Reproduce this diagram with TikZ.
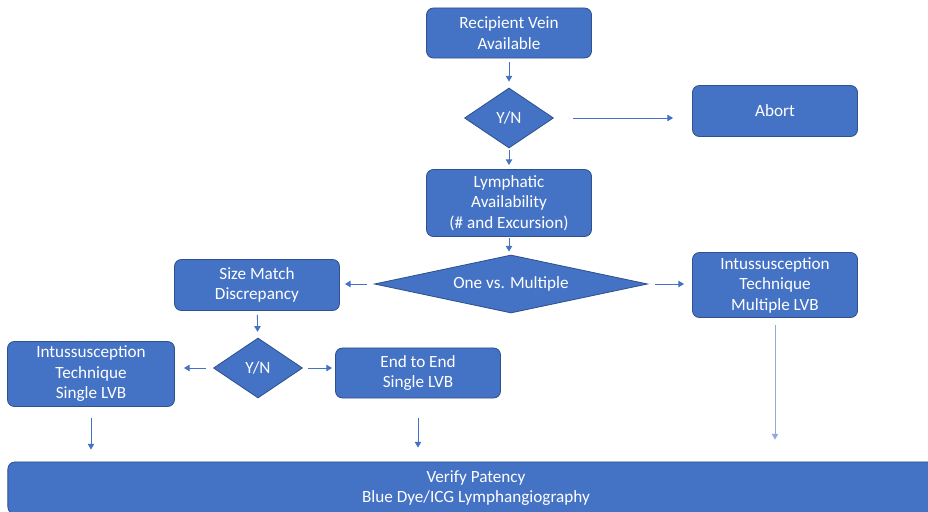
\documentclass[tikz,border=0pt]{standalone}
\usepackage{fontspec}
\setmainfont{Carlito}
\usetikzlibrary{shapes.geometric,arrows.meta}
\definecolor{boxblue}{HTML}{4472C4}
\definecolor{boxedge}{HTML}{2F528F}
\definecolor{paleblue}{HTML}{8FAADC}

\begin{document}
\begin{tikzpicture}[x=0.025cm,y=-0.025cm,
    stepbox/.style={fill=boxblue,draw=boxedge,line width=0.6pt,text=white,rounded corners=5pt,
      align=center,inner sep=0pt,minimum width=4.125cm,font=\fontsize{12.2}{14.6}\selectfont},
    choice/.style={diamond,fill=boxblue,draw=boxedge,line width=0.6pt,text=white,inner sep=0pt,
      aspect=1.5,minimum width=2.225cm,minimum height=1.5cm,font=\fontsize{12.2}{14.6}\selectfont},
    flow/.style={draw=boxblue,line width=0.6pt,-{Triangle[length=4pt,width=4.5pt]}}]
\useasboundingbox (0,0) rectangle (928,512);

\node[stepbox,minimum height=1.25cm] (vein) at (509,33) {Recipient Vein\\Available};
\node[choice] (yn1) at (509,118) {Y/N};
\node[stepbox,minimum height=1.275cm] (abort) at (775,111) {Abort};
\node[stepbox,minimum height=1.675cm] (lymph) at (509,203) {Lymphatic\\Availability\\(\# and Excursion)};
\node[choice,aspect=4.7,minimum width=6.825cm,minimum height=1.45cm] (count) at (511,284) {One vs. Multiple};
\node[stepbox,minimum height=1.275cm] (size) at (257,285) {Size Match\\Discrepancy};
\node[stepbox,minimum height=1.625cm] (multi) at (775,285) {Intussusception\\Technique\\Multiple LVB};
\node[choice] (yn2) at (258,368) {Y/N};
\node[stepbox,minimum width=4.175cm,minimum height=1.625cm] (single) at (91,374) {Intussusception\\Technique\\Single LVB};
\node[stepbox,minimum height=1.25cm] (endtoend) at (418,373) {End to End\\Single LVB};
\node[stepbox,minimum width=23.4cm,minimum height=1.3cm] (verify) at (476,488) {Verify Patency\\Blue Dye/ICG Lymphangiography};

\draw[flow,shorten <=0.1cm,shorten >=0.15cm] (vein) -- (yn1);
\draw[flow,shorten <=0.475cm,shorten >=0.475cm] (yn1.east) -- (abort.west |- yn1.east);
\draw[flow,shorten <=0.05cm,shorten >=0.1cm] (yn1) -- (lymph);
\draw[flow,shorten <=0.025cm,shorten >=0.075cm] (lymph.south) -- (lymph.south |- count.north);
\draw[flow,shorten <=0.175cm,shorten >=0.125cm] (count.west) -- (size.east |- count.west);
\draw[flow,shorten <=0.175cm,shorten >=0.2cm] (count.east) -- (multi.west |- count.east);
\draw[flow,shorten <=0.1cm,shorten >=0.15cm] (size) -- (yn2);
\draw[flow,shorten <=0.175cm,shorten >=0.225cm] (yn2.west) -- (single.east |- yn2.west);
\draw[flow,shorten <=0.125cm,shorten >=0.075cm] (yn2.east) -- (endtoend.west |- yn2.east);
\draw[flow,shorten <=0.275cm,shorten >=0.3cm] (single.south) -- (single.south |- verify.north);
\draw[flow,shorten <=0.5cm,shorten >=0.35cm] (endtoend.south) -- (endtoend.south |- verify.north);
\draw[flow,draw=paleblue,shorten <=0.175cm,shorten >=0.55cm] (multi.south) -- (multi.south |- verify.north);
\end{tikzpicture}
\end{document}
